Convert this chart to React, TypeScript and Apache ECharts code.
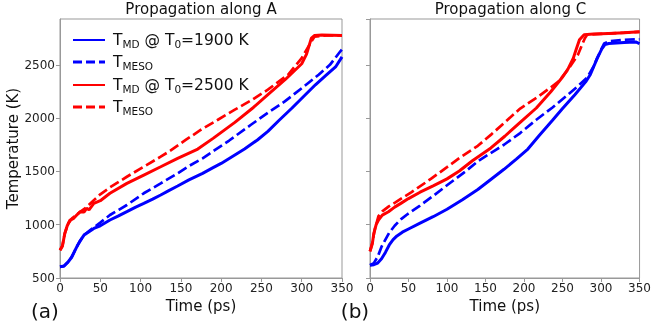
import React, { useEffect, useRef } from "react";
import * as echarts from "echarts";

// Time (ps) / temperature (K) pairs
const mdA1900: [number, number][] = [
  [0, 605], [5, 612], [10, 650], [14, 690], [18, 750], [22, 810], [26, 860], [30, 905], [36, 935], [42, 965],
  [50, 990], [62, 1044], [72, 1080], [83, 1122], [94, 1165], [104, 1200], [115, 1240], [125, 1279], [135, 1320],
  [146, 1363], [160, 1420], [177, 1482], [190, 1535], [200, 1575], [215, 1645], [229, 1710], [245, 1795],
  [258, 1876], [272, 1980], [288, 2095], [302, 2200], [317, 2313], [330, 2400], [342, 2480], [350, 2575],
];
const mesoA1900: [number, number][] = [
  [0, 605], [5, 612], [10, 650], [15, 700], [20, 780], [25, 850], [30, 900], [36, 940], [42, 975], [50, 1020],
  [62, 1091], [73, 1140], [83, 1185], [104, 1295], [125, 1388], [146, 1482], [160, 1550], [177, 1623],
  [192, 1700], [210, 1790], [237, 1938], [258, 2050], [279, 2157], [300, 2280], [321, 2407], [335, 2500],
  [348, 2627], [350, 2645],
];
const mdA2500: [number, number][] = [
  [0, 760], [3, 800], [6, 919], [9, 990], [12.5, 1044], [17, 1060], [22, 1100], [25, 1122], [30, 1120],
  [33, 1153], [36, 1140], [42, 1200], [50, 1225], [62, 1295], [83, 1388], [104, 1466], [125, 1544],
  [146, 1623], [171, 1710], [190, 1810], [217, 1960], [240, 2100], [258, 2220], [280, 2365], [300, 2510],
  [306, 2600], [312, 2751], [316, 2775], [325, 2780], [350, 2775],
];
const mesoA2500: [number, number][] = [
  [0, 760], [3, 800], [6, 920], [10, 1010], [15, 1060], [20, 1090], [25, 1120], [33, 1165], [42, 1230],
  [50, 1285], [62, 1350], [83, 1450], [104, 1545], [125, 1638], [137, 1695], [156, 1795], [175, 1891],
  [196, 1985], [217, 2079], [238, 2170], [258, 2267], [283, 2407], [300, 2563], [312, 2720], [316, 2765],
  [330, 2775], [350, 2775],
];

const mdC1900: [number, number][] = [
  [0, 620], [5, 625], [10, 640], [15, 680], [20, 740], [25, 810], [30, 860], [35, 895], [42, 930], [50, 960],
  [65, 1015], [82, 1075], [100, 1145], [120, 1235], [140, 1330], [156, 1420], [174, 1520], [190, 1615],
  [205, 1710], [220, 1840], [237, 1980], [250, 2090], [266, 2220], [280, 2340], [286, 2407],
  [295, 2560], [301, 2650], [305, 2690], [310, 2700], [330, 2710], [345, 2715], [350, 2700],
];
const mesoC1900: [number, number][] = [
  [0, 620], [5, 640], [10, 700], [15, 794], [20, 860], [25, 925], [32, 990], [40, 1050], [49, 1100],
  [65, 1180], [82, 1270], [100, 1370], [124, 1500], [141, 1600], [165, 1710], [174, 1750], [195, 1860],
  [216, 1985], [237, 2100], [257, 2220], [270, 2300], [282, 2380], [290, 2480], [295, 2563], [300, 2640],
  [304, 2700], [310, 2720], [330, 2735], [350, 2740],
];
const mdC2500: [number, number][] = [
  [0, 750], [3, 820], [5, 919], [8, 1000], [11, 1044], [16, 1090], [24, 1122], [32, 1165], [40, 1200],
  [50, 1245], [65, 1305], [82, 1365], [100, 1430], [116, 1504], [133, 1600], [157, 1720], [175, 1830],
  [195, 1960], [216, 2095], [235, 2250], [249, 2376], [257, 2460], [264, 2563], [268, 2650], [272, 2735],
  [278, 2782], [290, 2790], [310, 2795], [330, 2800], [350, 2810],
];
const mesoC2500: [number, number][] = [
  [0, 750], [3, 830], [6, 950], [11, 1080], [16, 1125], [24, 1170], [33, 1210], [45, 1265], [54, 1305],
  [79, 1430], [100, 1540], [115, 1620], [140, 1740], [158, 1850], [175, 1960], [195, 2090],
  [216, 2189], [235, 2290], [245, 2345], [257, 2454], [270, 2595], [276, 2700], [279, 2750], [282, 2782],
  [300, 2790], [350, 2810],
];

const panelTitles = ["Propagation along A", "Propagation along C"];
const panelTags = ["(a)", "(b)"];
const legendLabels = [
  "T{sub|MD} @ T{sub|0}=1900 K",
  "T{sub|MESO}",
  "T{sub|MD} @ T{sub|0}=2500 K",
  "T{sub|MESO}",
];

const BLUE = "#0000ff";
const RED = "#ff0000";
const FRAME = "#999999";
const FONT = "DejaVu Sans";

export default function App() {
  const ref = useRef<HTMLDivElement>(null);
  useEffect(() => {
    if (!ref.current) return;
    const chart = echarts.init(ref.current, undefined, { renderer: "svg" });

    const grids = [
      { left: 60, top: 19, width: 282, height: 259 },
      { left: 370, top: 19, width: 281, height: 259 },
    ];

    const xAxes = grids.map((_, i) => ({
      gridIndex: i,
      type: "value",
      min: 0,
      max: 350,
      interval: 50,
      axisLine: { show: true, onZero: false, lineStyle: { color: FRAME, width: 1 } },
      axisTick: { show: true, inside: false, length: 4, lineStyle: { color: FRAME } },
      axisLabel: { fontSize: 12, color: "#222", margin: 4, fontFamily: FONT, formatter: (v: number) => String(v) },
      splitLine: { show: false },
      name: "Time (ps)",
      nameLocation: "middle",
      nameGap: 14,
      nameTextStyle: { fontSize: 15, color: "#111", fontFamily: FONT },
    }));

    const yAxes = grids.map((_, i) => ({
      gridIndex: i,
      type: "value",
      min: 500,
      max: 2930,
      interval: 500,
      axisLine: { show: true, lineStyle: { color: FRAME, width: 1 } },
      axisTick: { show: true, inside: false, length: 4, lineStyle: { color: FRAME } },
      axisLabel: {
        show: i === 0,
        fontSize: 12,
        color: "#222",
        margin: 5,
        fontFamily: FONT,
        showMaxLabel: false,
        formatter: (v: number) => String(v),
      },
      splitLine: { show: false },
      name: i === 0 ? "Temperature (K)" : "",
      nameLocation: "middle",
      nameGap: 32,
      nameTextStyle: { fontSize: 15, color: "#111", fontFamily: FONT },
    }));

    const mk = (name: string, data: [number, number][], idx: number, color: string, dashed: boolean) => ({
      name,
      type: "line",
      xAxisIndex: idx,
      yAxisIndex: idx,
      data,
      showSymbol: false,
      symbol: "none",
      lineStyle: dashed ? { color, width: 2.7, type: [10, 4] } : { color, width: 3 },
      z: 2,
    });

    const legendGraphics: any[] = [];
    const legendColors = [BLUE, BLUE, RED, RED];
    const legendDashed = [false, true, false, true];
    const legendY = [40, 62, 85, 107];
    legendLabels.forEach((lab, k) => {
      legendGraphics.push({
        type: "line",
        shape: { x1: 73, y1: legendY[k], x2: 105, y2: legendY[k] },
        style: {
          stroke: legendColors[k],
          lineWidth: legendDashed[k] ? 3 : 2,
          lineDash: legendDashed[k] ? [9, 4] : null,
        },
      });
      legendGraphics.push({
        type: "text",
        x: 113,
        y: legendY[k],
        style: {
          text: lab,
          fontSize: 15.5,
          fontFamily: FONT,
          fill: "#111",
          lineHeight: 18,
          verticalAlign: "middle",
          rich: {
            sub: { fontSize: 10.5, lineHeight: 12, verticalAlign: "bottom", fontFamily: FONT, fill: "#111" },
          },
        },
      });
    });

    chart.setOption({
      animation: false,
      textStyle: { fontFamily: FONT },
      title: panelTitles.map((t, i) => ({
        text: t,
        left: grids[i].left + grids[i].width / 2,
        top: 1,
        textAlign: "center",
        padding: 0,
        textStyle: { fontSize: 15, fontWeight: "normal", color: "#111", fontFamily: FONT },
      })),
      grid: grids.map((g) => ({ ...g, show: true, borderColor: FRAME, borderWidth: 1, backgroundColor: "transparent" })),
      xAxis: xAxes,
      yAxis: yAxes,
      series: [
        mk("T_MD 1900 A", mdA1900, 0, BLUE, false),
        mk("T_MESO 1900 A", mesoA1900, 0, BLUE, true),
        mk("T_MD 2500 A", mdA2500, 0, RED, false),
        mk("T_MESO 2500 A", mesoA2500, 0, RED, true),
        mk("T_MD 1900 C", mdC1900, 1, BLUE, false),
        mk("T_MESO 1900 C", mesoC1900, 1, BLUE, true),
        mk("T_MD 2500 C", mdC2500, 1, RED, false),
        mk("T_MESO 2500 C", mesoC2500, 1, RED, true),
      ],
      graphic: [
        ...legendGraphics,
        {
          type: "text",
          x: 45,
          y: 311,
          style: { text: panelTags[0], fontSize: 20, fontFamily: FONT, fill: "#111", align: "center", verticalAlign: "middle" },
        },
        {
          type: "text",
          x: 355,
          y: 311,
          style: { text: panelTags[1], fontSize: 20, fontFamily: FONT, fill: "#111", align: "center", verticalAlign: "middle" },
        },
      ],
    });
    return () => chart.dispose();
  }, []);
  return <div ref={ref} style={{ position: "fixed", left: 0, top: 0, width: 654, height: 331 }} />;
}
